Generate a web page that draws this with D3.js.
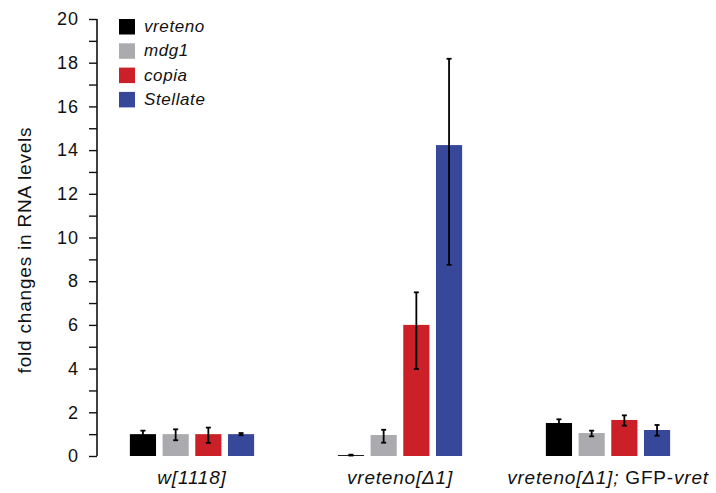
<!DOCTYPE html>
<html><head><meta charset="utf-8">
<script src="https://cdn.jsdelivr.net/npm/d3@7"></script>
<style>body{margin:0;background:#fff}svg{display:block}text{font-family:"Liberation Sans",Arial,sans-serif;fill:#111}</style>
</head><body><div id="chart"></div>
<script>
const groups = ["w[1118]", "vreteno[Δ1]", "vreteno[Δ1]; GFP-vret"];
const series = ["vreteno", "mdg1", "copia", "Stellate"];
const colors = ["#000000", "#abaaae", "#cc2028", "#37489b"];
const values = [
  [1.0, 1.0, 1.0, 1.0],
  [0.04, 0.96, 6.0, 14.23],
  [1.51, 1.05, 1.65, 1.19]
];
const errUp = [
  [0.16, 0.22, 0.3, 0.05],
  [0.02, 0.24, 1.49, 3.95],
  [0.17, 0.11, 0.21, 0.23]
];
const errDown = [
  [0.16, 0.28, 0.4, 0.05],
  [0.02, 0.35, 2.02, 5.48],
  [0.17, 0.15, 0.26, 0.26]
];
const yTicks = [0, 2, 4, 6, 8, 10, 12, 14, 16, 18, 20];
const yMinorTicks = [1, 3, 5, 7, 9, 11, 13, 15, 17, 19];

const W = 716, H = 493;
const svg = d3.select("#chart").append("svg").attr("width", W).attr("height", H);

const y = d3.scaleLinear().domain([0, 20]).range([456, 19]);
const x0 = d3.scaleBand().domain(groups).range([88, 712]);
const x1 = d3.scaleBand().domain(series).range([-65.4, 65.4]).paddingInner(0.2).paddingOuter(0.1);
const color = d3.scaleOrdinal().domain(series).range(colors);

// y axis
const axisX = 97;
const ax = svg.append("g").attr("transform", `translate(${axisX},0)`);
ax.call(d3.axisLeft(y).tickValues(yTicks).tickSize(8).tickPadding(10).tickFormat(d3.format("d")));
ax.append("g").call(d3.axisLeft(y).tickValues(yMinorTicks).tickSize(8).tickFormat(""));
ax.selectAll(".domain").remove();
ax.append("line").attr("x1", 0).attr("x2", 0).attr("y1", y(20)).attr("y2", y(0)).attr("stroke", "#111").attr("stroke-width", 1.6);
ax.selectAll(".tick line").attr("stroke", "#111").attr("stroke-width", 1.4);
ax.selectAll("text").style("font-size", "18px").style("letter-spacing", "1px").attr("fill", "#111")
  .style("font-family", '"Liberation Sans",Arial,sans-serif');

// y label
svg.append("text").attr("transform", `translate(31,${250}) rotate(-90)`)
  .attr("text-anchor", "middle").style("font-size", "19px").style("letter-spacing", "0.8px")
  .text("fold changes in RNA levels");

// bars
const gG = svg.selectAll(".grp").data(groups).join("g").attr("class", "grp")
  .attr("transform", d => `translate(${x0(d) + x0.bandwidth() / 2},0)`);
gG.each(function(g, gi) {
  const sel = d3.select(this);
  const data = series.map((s, si) => ({s, v: values[gi][si], hi: values[gi][si] + errUp[gi][si], lo: Math.max(0, values[gi][si] - errDown[gi][si])}));
  sel.selectAll("rect").data(data).join("rect")
    .attr("x", d => x1(d.s)).attr("width", x1.bandwidth())
    .attr("y", d => y(d.v)).attr("height", d => y(0) - y(d.v))
    .attr("fill", d => color(d.s));
  const eb = sel.selectAll(".eb").data(data).join("g").attr("class", "eb")
    .attr("transform", d => `translate(${x1(d.s) + x1.bandwidth() / 2},0)`);
  eb.append("line").attr("y1", d => y(d.hi)).attr("y2", d => y(d.lo))
    .attr("stroke", "#000").attr("stroke-width", 1.8);
  eb.append("line").attr("x1", -2.5).attr("x2", 2.5).attr("y1", d => y(d.hi)).attr("y2", d => y(d.hi))
    .attr("stroke", "#000").attr("stroke-width", 1.8);
  eb.append("line").attr("x1", -2.5).attr("x2", 2.5).attr("y1", d => y(d.lo)).attr("y2", d => y(d.lo))
    .attr("stroke", "#000").attr("stroke-width", 1.8);
});

// x labels
const xl = svg.selectAll(".xl").data(groups).join("text").attr("class", "xl")
  .attr("x", d => x0(d) + x0.bandwidth() / 2).attr("y", 484)
  .attr("text-anchor", "middle").style("font-size", "19px").style("letter-spacing", "0.8px");
xl.each(function(d) {
  const t = d3.select(this);
  if (d.includes("GFP-")) {
    const [a, b] = d.split("GFP-");
    t.append("tspan").style("font-style", "italic").text(a);
    t.append("tspan").text("GFP-");
    t.append("tspan").style("font-style", "italic").text(b);
  } else {
    t.append("tspan").style("font-style", "italic").text(d);
  }
});

// legend
const lg = svg.append("g").selectAll("g").data(series).join("g")
  .attr("transform", (d, i) => `translate(119,${19 + i * 24.3})`);
lg.append("rect").attr("width", 16).attr("height", 15.5).attr("fill", d => color(d));
lg.append("text").attr("x", 25).attr("y", 13).style("font-size", "17px").style("font-style", "italic")
  .style("letter-spacing", "0.6px").text(d => d);
</script></body></html>
